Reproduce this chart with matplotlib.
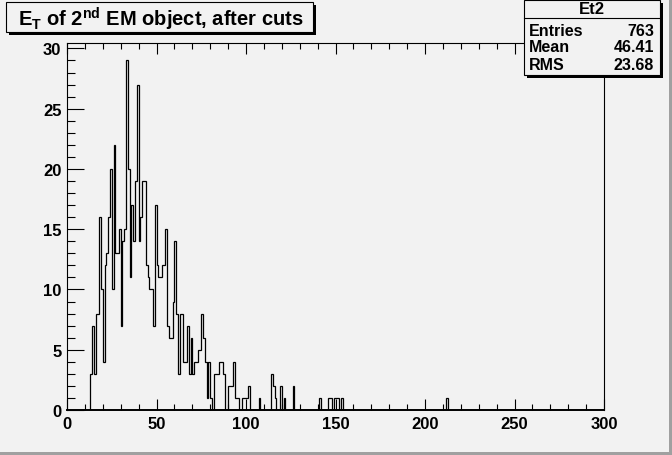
import numpy as np
import matplotlib.pyplot as plt
from matplotlib.patches import Rectangle
from matplotlib.ticker import MultipleLocator

plt.rcParams['font.family'] = ['Liberation Sans', 'DejaVu Sans']
plt.rcParams['font.weight'] = 'bold'
plt.rcParams['mathtext.fontset'] = 'custom'
plt.rcParams['mathtext.rm'] = 'Liberation Sans:bold'
plt.rcParams['mathtext.it'] = 'Liberation Sans:bold'
plt.rcParams['mathtext.bf'] = 'Liberation Sans:bold'

# histogram Et2: 300 bins of 1 GeV from 0 to 300
x_lo = 0
x_hi = 300
n_bins = 300

# consecutive bins 13..101
dense_first_bin = 13
dense_counts = [3, 7, 3, 8, 8, 16, 10, 4, 12, 13,
                16, 20, 10, 22, 13, 13, 15, 7, 14, 15,
                29, 20, 11, 17, 14, 19, 27, 14, 16, 19,
                19, 12, 11, 10, 10, 7, 17, 12, 11, 11,
                12, 12, 15, 7, 6, 6, 9, 14, 8, 3,
                8, 8, 4, 4, 7, 3, 6, 3, 4, 4,
                5, 5, 8, 6, 4, 1, 4, 1, 0, 3,
                3, 3, 4, 4, 3, 0, 0, 2, 2, 2,
                4, 1, 1, 0, 0, 1, 1, 1, 2]

# isolated bins in the tail
tail_bins = [107, 114, 115, 116, 119, 121, 126, 141, 146, 147, 149, 150, 151, 153, 212]
tail_counts = [1, 3, 2, 1, 2, 1, 2, 1, 1, 1, 1, 1, 1, 1, 1]

stats_name = "Et2"
stats_labels = ["Entries", "Mean", "RMS"]
stats_values = ["763", "46.41", "23.68"]

title = r"E$_{\mathrm{T}}$ of 2$^{\mathrm{nd}}$ EM object, after cuts"

counts = np.zeros(n_bins)
counts[dense_first_bin:dense_first_bin + len(dense_counts)] = dense_counts
counts[tail_bins] = tail_counts
edges = np.linspace(x_lo, x_hi, n_bins + 1)

W, H = 672, 456
bg = '#f2f2f2'
fig = plt.figure(figsize=(W / 100, H / 100), dpi=100, facecolor=bg)


def px(x, y):
    return x / W, 1 - y / H


# frame: x 67..604, y 44..411 (pixels)
ax = fig.add_axes([67 / W, (H - 411) / H, 537 / W, 367 / H])
ax.set_facecolor(bg)
ax.stairs(counts, edges, color='black', linewidth=0.9, baseline=0)
ax.set_xlim(x_lo, x_hi)
ax.set_ylim(0, counts.max() * 1.05)

ax.xaxis.set_major_locator(MultipleLocator(50))
ax.xaxis.set_minor_locator(MultipleLocator(10))
ax.yaxis.set_major_locator(MultipleLocator(5))
ax.yaxis.set_minor_locator(MultipleLocator(1))
ax.tick_params(axis='x', which='major', direction='in', length=8, width=0.8,
               top=True, labelsize=12, pad=4)
ax.tick_params(axis='x', which='minor', direction='in', length=4, width=0.8, top=True)
ax.tick_params(axis='y', which='major', direction='in', length=12, width=0.8,
               right=False, labelsize=12, pad=4)
ax.tick_params(axis='y', which='minor', direction='in', length=6, width=0.8, right=False)
for lab in ax.get_xticklabels() + ax.get_yticklabels():
    lab.set_fontweight('bold')
for s in ax.spines.values():
    s.set_linewidth(0.8)
ax.spines['bottom'].set_linewidth(1.4)

# title box with shadow
x0, y0, x1, y1 = 6, 3, 313, 33
fig.patches.append(Rectangle(px(x0 + 3, y1 + 3), (x1 - x0) / W, (y1 - y0) / H,
                             transform=fig.transFigure, facecolor='black', edgecolor='none'))
fig.patches.append(Rectangle(px(x0, y1), (x1 - x0) / W, (y1 - y0) / H,
                             transform=fig.transFigure, facecolor=bg, edgecolor='black', linewidth=0.8))
fig.text(*px(18, 19), title, fontsize=14.5, fontweight='bold', ha='left', va='center')

# stats box with shadow
sx0, sy0, sx1, sy1 = 524, 1, 660, 76
fig.patches.append(Rectangle(px(sx0 + 3, sy1 + 3), (sx1 - sx0) / W, (sy1 - sy0) / H,
                             transform=fig.transFigure, facecolor='black', edgecolor='none'))
fig.patches.append(Rectangle(px(sx0, sy1), (sx1 - sx0) / W, (sy1 - sy0) / H,
                             transform=fig.transFigure, facecolor=bg, edgecolor='black', linewidth=0.8))
fig.add_artist(plt.Line2D([sx0 / W, sx1 / W], [1 - 19 / H, 1 - 19 / H],
                          transform=fig.transFigure, color='black', linewidth=0.8))
fig.text(*px((sx0 + sx1) / 2, 10), stats_name, fontsize=12, fontweight='bold', ha='center', va='center')
for i, (lab, val) in enumerate(zip(stats_labels, stats_values)):
    yy = 31 + i * 17
    fig.text(*px(sx0 + 5, yy), lab, fontsize=11.5, fontweight='bold', ha='left', va='center')
    fig.text(*px(sx1 - 6, yy), val, fontsize=11.5, fontweight='bold', ha='right', va='center')

# canvas bevel
fig.patches.append(Rectangle((0, 0), 1, 3 / H, transform=fig.transFigure,
                             facecolor='#a0a0a0', edgecolor='none'))
fig.patches.append(Rectangle((1 - 3 / W, 0), 3 / W, 1, transform=fig.transFigure,
                             facecolor='#a0a0a0', edgecolor='none'))

fig.savefig('out.png', dpi=100, facecolor=bg)
